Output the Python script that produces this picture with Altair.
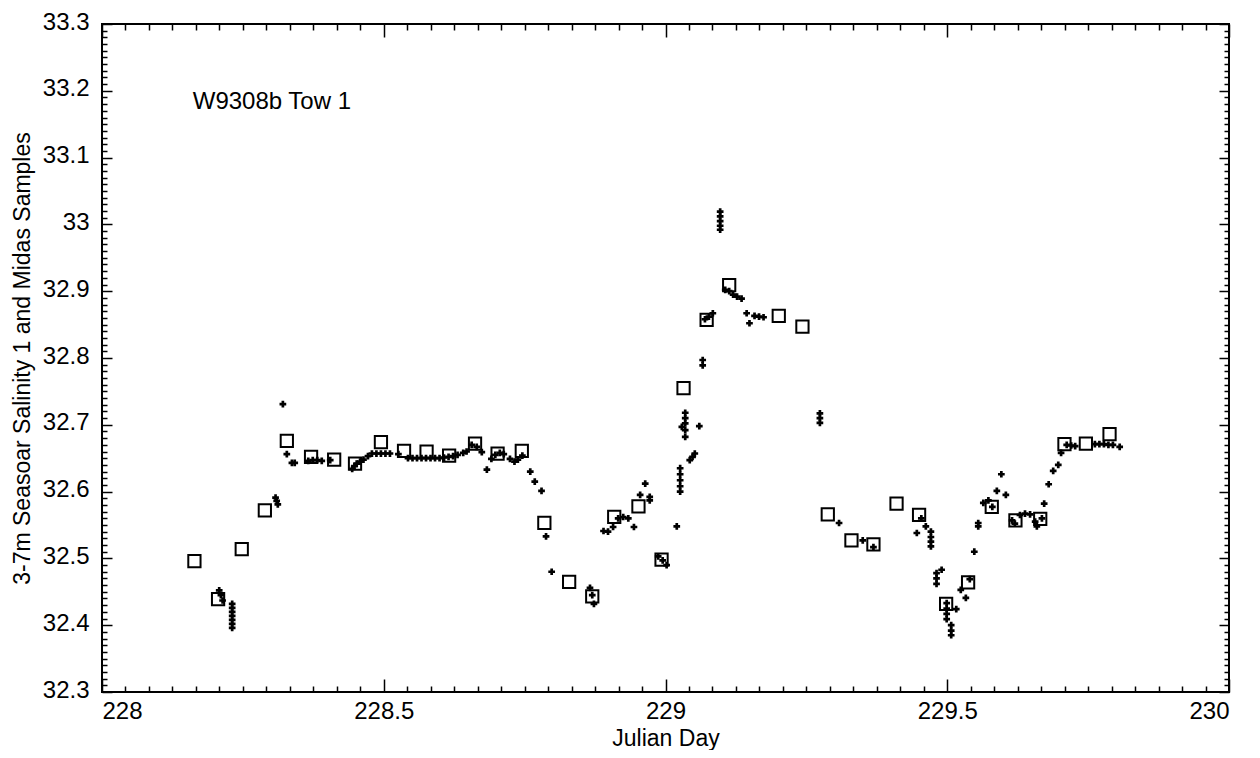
import altair as alt
import pandas as pd

# Midas samples (hollow squares)
midas_day = [228.164, 228.206, 228.248, 228.289, 228.328, 228.371, 228.412, 228.449,
             228.495, 228.536, 228.576, 228.616, 228.662, 228.702, 228.745, 228.785,
             228.829, 228.870, 228.909, 228.952, 228.993, 229.032, 229.073, 229.113,
             229.201, 229.243, 229.288, 229.330, 229.369, 229.410, 229.450, 229.498,
             229.537, 229.579, 229.621, 229.665, 229.708, 229.746, 229.788]
midas_sal = [32.496, 32.439, 32.514, 32.572, 32.676, 32.652, 32.648, 32.642,
             32.674, 32.661, 32.660, 32.654, 32.672, 32.657, 32.661, 32.553,
             32.465, 32.443, 32.562, 32.578, 32.498, 32.755, 32.857, 32.909,
             32.863, 32.847, 32.566, 32.527, 32.521, 32.582, 32.565, 32.432,
             32.464, 32.577, 32.557, 32.559, 32.671, 32.672, 32.686]

# Seasoar 3-7m salinity (plus markers)
seasoar_day = [228.208, 228.211, 228.214, 228.231, 228.231, 228.231, 228.231, 228.231,
               228.231, 228.231, 228.308, 228.310, 228.312, 228.321, 228.328, 228.337,
               228.342, 228.366, 228.374, 228.382, 228.390, 228.405, 228.444, 228.448,
               228.452, 228.458, 228.464, 228.472, 228.479, 228.487, 228.495, 228.503,
               228.511, 228.526, 228.543, 228.551, 228.559, 228.567, 228.575, 228.583,
               228.591, 228.599, 228.607, 228.615, 228.623, 228.631, 228.641, 228.647,
               228.656, 228.665, 228.674, 228.683, 228.691, 228.698, 228.706, 228.713,
               228.724, 228.732, 228.738, 228.746, 228.760, 228.768, 228.780, 228.788,
               228.798, 228.866, 228.870, 228.873, 228.890, 228.898, 228.907, 228.916,
               228.925, 228.934, 228.944, 228.955, 228.964, 228.972, 228.972, 228.987,
               228.995, 229.002, 229.020, 229.026, 229.026, 229.026, 229.026, 229.026,
               229.029, 229.035, 229.035, 229.035, 229.035, 229.035, 229.043, 229.048,
               229.052, 229.060, 229.066, 229.066, 229.070, 229.077, 229.084, 229.097,
               229.097, 229.097, 229.097, 229.097, 229.106, 229.113, 229.120, 229.127,
               229.135, 229.144, 229.149, 229.158, 229.166, 229.174, 229.274, 229.274,
               229.274, 229.308, 229.350, 229.369, 229.446, 229.454, 229.462, 229.471,
               229.471, 229.471, 229.471, 229.481, 229.481, 229.481, 229.490, 229.499,
               229.499, 229.499, 229.499, 229.507, 229.507, 229.507, 229.516, 229.524,
               229.533, 229.540, 229.548, 229.555, 229.555, 229.564, 229.573, 229.580,
               229.588, 229.596, 229.604, 229.615, 229.620, 229.629, 229.638, 229.647,
               229.656, 229.659, 229.668, 229.672, 229.680, 229.688, 229.697, 229.702,
               229.712, 229.720, 229.727, 229.762, 229.770, 229.778, 229.786, 229.794,
               229.806]
seasoar_sal = [32.452, 32.445, 32.437, 32.432, 32.426, 32.420, 32.414, 32.408,
               32.402, 32.396, 32.591, 32.586, 32.581, 32.731, 32.656, 32.643,
               32.643, 32.646, 32.647, 32.647, 32.646, 32.647, 32.634, 32.638,
               32.642, 32.645, 32.648, 32.653, 32.657, 32.657, 32.657, 32.657,
               32.657, 32.656, 32.650, 32.650, 32.650, 32.650, 32.650, 32.650,
               32.650, 32.650, 32.651, 32.652, 32.653, 32.655, 32.658, 32.660,
               32.670, 32.667, 32.659, 32.633, 32.649, 32.655, 32.658, 32.656,
               32.649, 32.645, 32.648, 32.654, 32.630, 32.615, 32.601, 32.533,
               32.480, 32.456, 32.445, 32.432, 32.541, 32.540, 32.547, 32.560,
               32.562, 32.560, 32.547, 32.595, 32.612, 32.592, 32.587, 32.503,
               32.497, 32.490, 32.548, 32.635, 32.626, 32.617, 32.608, 32.600,
               32.697, 32.718, 32.710, 32.702, 32.692, 32.682, 32.647, 32.652,
               32.657, 32.698, 32.797, 32.789, 32.858, 32.862, 32.867, 33.019,
               33.012, 33.005, 32.998, 32.992, 32.902, 32.900, 32.895, 32.892,
               32.889, 32.867, 32.852, 32.863, 32.862, 32.861, 32.717, 32.710,
               32.703, 32.553, 32.527, 32.517, 32.538, 32.560, 32.548, 32.540,
               32.532, 32.525, 32.518, 32.478, 32.470, 32.462, 32.483, 32.433,
               32.425, 32.417, 32.409, 32.400, 32.392, 32.385, 32.424, 32.453,
               32.441, 32.469, 32.510, 32.553, 32.548, 32.583, 32.587, 32.577,
               32.601, 32.626, 32.595, 32.557, 32.552, 32.565, 32.567, 32.566,
               32.555, 32.548, 32.560, 32.582, 32.611, 32.631, 32.640, 32.658,
               32.670, 32.669, 32.668, 32.671, 32.671, 32.671, 32.670, 32.670,
               32.667]

x_labels = [228, 228.5, 229, 229.5, 230]
y_labels = [32.3, 32.4, 32.5, 32.6, 32.7, 32.8, 32.9, 33.0, 33.1, 33.2, 33.3]
x_ticks = [228 + k / 24 for k in range(49)]
y_ticks = [round(32.3 + k * 0.01, 2) for k in range(101)]

note_text = ["W9308b Tow 1"]
note_day = [228.161]
note_sal = [33.183]

W, H = 1127, 668
FONT = "Liberation Sans"
FS = 24
TFS = 23

xs = alt.Scale(domain=[228, 230], nice=False, zero=False)
ys = alt.Scale(domain=[32.3, 33.3], nice=False, zero=False)

x_major = {"condition": {"test": "abs(datum.value*2 - round(datum.value*2)) < 0.001", "value": 13}, "value": 6}
y_major = {"condition": {"test": "abs(datum.value*10 - round(datum.value*10)) < 0.001", "value": 10}, "value": 5}

midas = pd.DataFrame({"day": midas_day, "sal": midas_sal})
seasoar = pd.DataFrame({"day": seasoar_day, "sal": seasoar_sal})
note = pd.DataFrame({"day": note_day, "sal": note_sal, "t": note_text})

txt = dict(labelFont=FONT, titleFont=FONT, labelFontSize=FS, titleFontSize=TFS,
           labelColor="black", titleColor="black", titleFontWeight="normal")

squares = alt.Chart(midas).mark_point(
    shape="square", size=150, filled=False, stroke="black", strokeWidth=2, opacity=1
).encode(
    x=alt.X("day:Q", scale=xs, axis=alt.Axis(
        orient="bottom", values=x_labels, format="~g", ticks=False, domain=False, grid=False,
        title="Julian Day", labelPadding=7, titlePadding=4, **txt)),
    y=alt.Y("sal:Q", scale=ys, axis=alt.Axis(
        orient="left", values=y_labels, format="~g", ticks=False, domain=False, grid=False,
        title="3-7m Seasoar Salinity 1 and Midas Samples", labelPadding=13, titlePadding=8,
        labelOffset=-2, **txt)),
)

pluses = alt.Chart(seasoar).mark_point(
    shape="cross", size=45, filled=True, color="black", opacity=1
).encode(
    x=alt.X("day:Q", scale=xs, axis=alt.Axis(
        orient="top", offset=-H, values=x_ticks, labels=False, domain=False, grid=False,
        title=None, tickSize=x_major, tickWidth=1.5, tickColor="black")),
    y=alt.Y("sal:Q", scale=ys, axis=alt.Axis(
        orient="right", offset=-W, values=y_ticks, labels=False, domain=False, grid=False,
        title=None, tickSize=y_major, tickWidth=1.5, tickColor="black")),
)

label = alt.Chart(note).mark_text(
    align="left", baseline="middle", font=FONT, fontSize=FS, color="black"
).encode(
    x=alt.X("day:Q", scale=xs, axis=alt.Axis(
        orient="bottom", offset=-H, values=x_ticks, labels=False, domain=False, grid=False,
        title=None, tickSize=x_major, tickWidth=1.5, tickColor="black")),
    y=alt.Y("sal:Q", scale=ys, axis=alt.Axis(
        orient="left", offset=-W, values=y_ticks, labels=False, domain=False, grid=False,
        title=None, tickSize=y_major, tickWidth=1.5, tickColor="black")),
    text="t:N",
)

chart = alt.layer(pluses, squares, label).resolve_axis(
    x="independent", y="independent"
).properties(
    width=W, height=H,
    background="white",
    autosize=alt.AutoSizeParams(type="none"),
    padding={"left": 94, "top": 16, "right": 20, "bottom": 58},
).configure_view(
    stroke="black", strokeWidth=2
)

chart.save("out.html", embed_options={"renderer": "svg", "actions": False})
